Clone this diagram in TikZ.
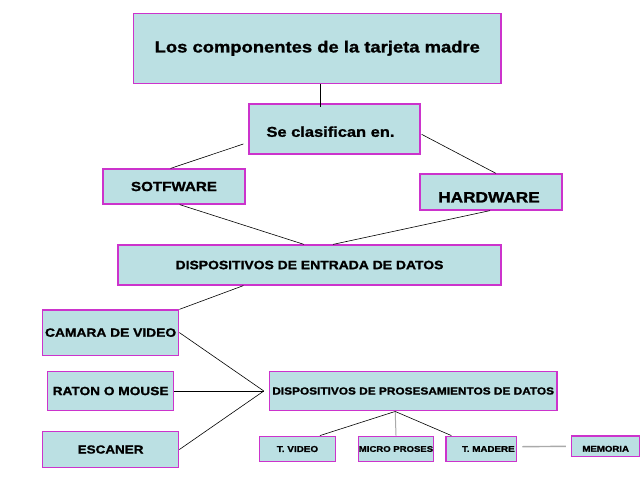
\documentclass[tikz,border=0pt]{standalone}
\usepackage{fontspec}
\setmainfont[FakeStretch=1.15, BoldFeatures={FakeBold=1.3}]{Liberation Sans}
\definecolor{boxfill}{HTML}{BBE0E3}
\definecolor{boxline}{HTML}{CC33CC}
\definecolor{lightline}{HTML}{AAAAAA}
\newcommand{\fs}[1]{\fontsize{#1}{#1}\selectfont\bfseries}
\begin{document}
\begin{tikzpicture}[x=1pt,y=-1pt,
  box/.style={draw=boxline, fill=boxfill, line width=1.2pt, inner sep=0pt, align=center},
  conn/.style={draw=black, line width=0.6pt},
  grayconn/.style={draw=lightline, line width=1pt}]
\useasboundingbox (0,0) rectangle (640,480);
\fill[white] (0,0) rectangle (640,480);

\node[box, minimum width=367.5pt, minimum height=70pt, font=\fs{16}] (title) at (317.3,48.3) {Los componentes de la tarjeta madre};
\node[box, minimum width=171pt, minimum height=50pt, font=\fs{14.3}] (se) at (334.5,129) {\raisebox{-2.7pt}[\height][\depth]{Se clasifican en.}\hspace*{8pt}};
\node[box, minimum width=142pt, minimum height=35pt, font=\fs{13.2}] (sot) at (174,186.5) {SOTFWARE};
\node[box, minimum width=142pt, minimum height=36pt, font=\fs{15}] (hw) at (491,192) {\raisebox{-5.3pt}[\height][\depth]{HARDWARE}\hspace*{4pt}};
\node[box, minimum width=383pt, minimum height=40pt, font=\fs{12.1}] (den) at (309.5,265) {DISPOSITIVOS DE ENTRADA DE DATOS};
\node[box, minimum width=136.4pt, minimum height=45.3pt, font=\fs{12}] (cam) at (110.6,332.6) {CAMARA DE VIDEO};
\node[box, minimum width=125.7pt, minimum height=39.7pt, font=\fs{11.9}] (rat) at (110.6,391) {RATON O MOUSE};
\node[box, minimum width=136.4pt, minimum height=35.6pt, font=\fs{11.7}] (esc) at (110.6,449.5) {ESCANER};
\node[box, minimum width=287.6pt, minimum height=39.7pt, font=\fs{10.3}] (pros) at (413.2,391) {DISPOSITIVOS DE PROSESAMIENTOS DE DATOS};
\node[box, minimum width=76pt, minimum height=25.7pt, font=\fs{8.6}] (tv) at (297.5,449) {T. VIDEO};
\node[box, minimum width=71pt, minimum height=25.7pt, font=\fs{8.3}] (mi) at (396,449) {MICRO PROSES};
\node[box, minimum width=70.7pt, minimum height=25.7pt, font=\fs{8.5}] (tm) at (481.3,449) {\hspace*{14pt}T. MADERE};
\node[box, minimum width=68.6pt, minimum height=20.7pt, font=\fs{8.4}] (mem) at (605.7,446.3) {\raisebox{-2.5pt}[\height][\depth]{MEMORIA}};

\coordinate (j) at ([xshift=-5pt]pros.west);
\coordinate (pb) at ([xshift=-18pt]pros.south);

\draw[conn] ([xshift=3pt]title.south) -- ([xshift=3pt,yshift=-4pt]title.south |- se.north);
\draw[conn] ([xshift=-5pt,yshift=-15pt]se.west) -- ([xshift=-3.5pt]sot.north);
\draw[conn] ([xshift=1pt,yshift=-5.3pt]se.east) -- ([xshift=5pt]hw.north);
\draw[conn] ([xshift=5.6pt]sot.south) -- ([xshift=-5.5pt]den.north);
\draw[conn] ([xshift=-1pt]hw.south) -- ([xshift=23.5pt]den.north);
\draw[conn] ([xshift=126pt]den.south west) -- (cam.north east);
\draw[conn] (cam.east) -- (j);
\draw[conn] (rat.east) -- (j);
\draw[conn] (esc.east) -- (j);
\draw[conn] (pb) -- ([xshift=22.5pt]tv.north);
\draw[grayconn] (pb) -- (mi.north);
\draw[conn] (pb) -- ([xshift=6pt]tm.north west);
\draw[grayconn, line width=1.4pt] ([xshift=5pt,yshift=2.3pt]tm.east) -- ([xshift=-5pt]mem.west);
\end{tikzpicture}
\end{document}
